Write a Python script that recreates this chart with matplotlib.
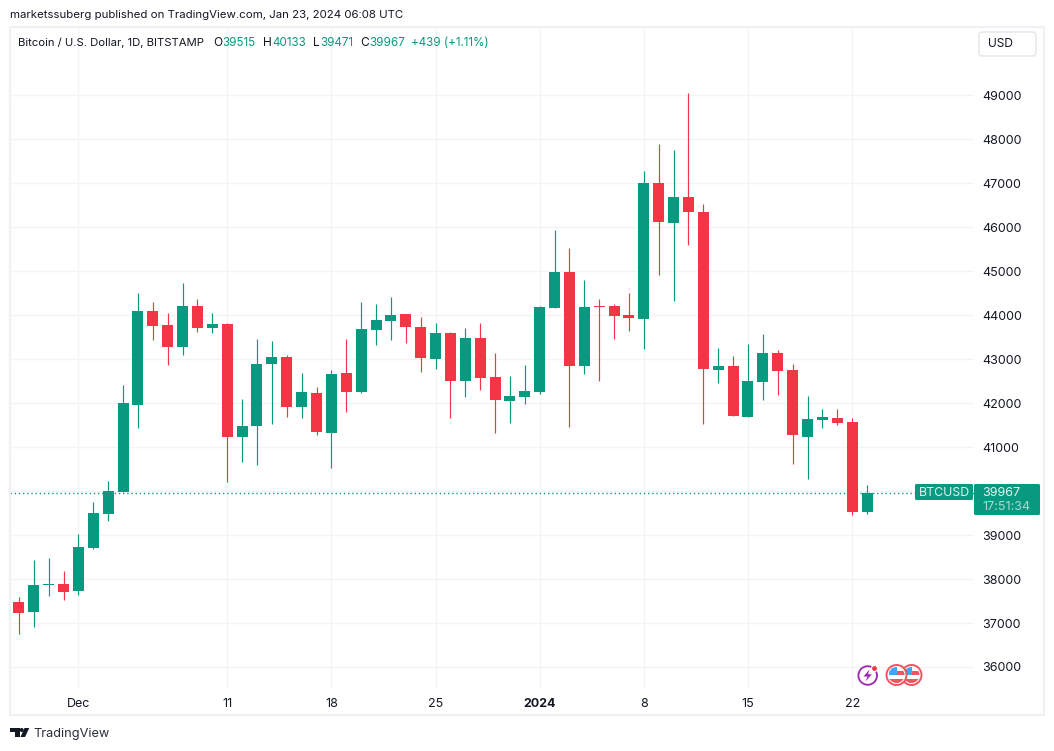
import matplotlib
matplotlib.use("Agg")
import matplotlib.pyplot as plt
import matplotlib.dates as mdates
from matplotlib.patches import Circle, FancyBboxPatch, Polygon, Rectangle
import pandas as pd

plt.rcParams['font.family'] = ['Inter', 'DejaVu Sans']

W, H = 1054, 751
GREEN = '#089981'
RED = '#f23645'
TEXT = '#131722'
GRID = '#f4f4f7'
FRAME = '#f0f0f5'

#######################################################################################
# daily candles, Nov 27 2023 to Jan 23 2024
dates = pd.date_range('2023-11-27', '2024-01-23', freq='D')
opens = [37485, 37257, 37860, 37894, 37735, 38712, 39485, 39985, 41962, 44098,
         43780, 43280, 44212, 43712, 43803, 41235, 41485, 42894, 43053, 41917,
         42235, 41326, 42689, 42258, 43667, 43871, 44030, 43735, 43008, 43598,
         42508, 43485, 42598, 42053, 42144, 42258, 44167, 44985, 42848, 44212,
         44212, 44008, 43917, 47008, 46098, 46689, 46348, 42758, 42848, 41689,
         42485, 43144, 42758, 41235, 41621, 41667, 41576, 39515]
highs = [37598, 38439, 38485, 38189, 39030, 39757, 40235, 42417, 44508, 44303,
         44053, 44735, 44371, 44053, 43826, 42098, 43462, 43417, 43098, 42689,
         42371, 42758, 43462, 44303, 44258, 44417, 44030, 43962, 43826, 43621,
         43712, 43826, 43144, 42621, 42871, 44212, 45939, 45530, 44803, 44371,
         44258, 44508, 47280, 47894, 47758, 49053, 46530, 43258, 43076, 43348,
         43576, 43212, 42894, 42167, 41871, 41871, 41667, 40133]
lows = [36757, 36916, 37621, 37530, 37644, 38689, 39326, 39985, 41439, 43439,
        42871, 43098, 43621, 43598, 40212, 40667, 40598, 41530, 41689, 41667,
        41280, 40525, 41803, 42235, 43326, 43439, 43371, 42712, 42780, 41667,
        42144, 42303, 41326, 41553, 41985, 42212, 44167, 41462, 42667, 42508,
        43462, 43644, 43235, 44917, 44326, 45598, 41530, 42462, 41712, 41689,
        42076, 42189, 40621, 40280, 41439, 41508, 39462, 39471]
closes = [37235, 37871, 37885, 37712, 38735, 39507, 40007, 42008, 44098, 43758,
          43280, 44212, 43712, 43803, 41235, 41485, 42894, 43053, 41917, 42258,
          41348, 42667, 42258, 43689, 43894, 44008, 43735, 43030, 43598, 42508,
          43485, 42576, 42076, 42167, 42280, 44189, 44985, 42848, 44189, 44189,
          43985, 43939, 47008, 46121, 46689, 46348, 42780, 42848, 41712, 42508,
          43144, 42735, 41280, 41644, 41689, 41553, 39530, 39967]

price_ticks = [36000, 37000, 38000, 39000, 40000, 41000, 42000, 43000, 44000,
               45000, 46000, 47000, 48000, 49000]
price_labels = ['36000', '37000', '38000', '39000', '', '41000', '42000', '43000',
                '44000', '45000', '46000', '47000', '48000', '49000']
date_ticks = ['2023-12-01', '2023-12-11', '2023-12-18', '2023-12-25',
              '2024-01-01', '2024-01-08', '2024-01-15', '2024-01-22']
date_labels = ['Dec', '11', '18', '25', '2024', '8', '15', '22']
last_price = 39967

#######################################################################################
fig = plt.figure(figsize=(W / 100, H / 100), dpi=100, facecolor='white')

# chart pane: x 10..974, y 27..688 in pixels
ax = fig.add_axes([10 / W, 1 - 688 / H, 964 / W, 661 / H])
for s in ax.spines.values():
    s.set_visible(False)

x = mdates.date2num(dates)
colors = [GREEN if c >= o else RED for o, c in zip(opens, closes)]
tops = [max(o, c) for o, c in zip(opens, closes)]
bottoms = [min(o, c) for o, c in zip(opens, closes)]
heights = [t - b for t, b in zip(tops, bottoms)]

ax.vlines(x, lows, highs, colors=colors, linewidth=0.85, zorder=3)
ax.bar(x, heights, bottom=bottoms, width=0.74, color=colors, linewidth=0, zorder=4)
ax.axhline(last_price, color=GREEN, linewidth=1.0, linestyle=(0, (1, 2)), zorder=2)

ax.set_xlim(x[0] - 0.6, x[0] + 64.19)
ax.set_ylim(35522, 50553)
ax.yaxis.tick_right()
ax.set_yticks(price_ticks)
ax.set_yticklabels(price_labels)
ax.set_xticks(mdates.date2num(pd.to_datetime(date_ticks)))
ax.set_xticklabels(date_labels)
ax.tick_params(axis='both', length=0, labelcolor=TEXT, labelsize=9.0)
ax.tick_params(axis='y', pad=6)
ax.tick_params(axis='x', pad=7)
ax.get_xticklabels()[4].set_fontweight('bold')
ax.grid(True, color=GRID, linewidth=1.0, zorder=0)
ax.set_axisbelow(True)

#######################################################################################
# everything around the pane is placed in pixels on a second axes
ov = fig.add_axes([0, 0, 1, 1], facecolor='none')
ov.set_xlim(0, W)
ov.set_ylim(H, 0)
ov.axis('off')


def label(px, py, s, color=TEXT, size=9.0, **kw):
    ov.text(px, py, s, color=color, fontsize=size, va='center', **kw)


ov.add_patch(Rectangle((10, 27), 1034, 688, fill=False, edgecolor=FRAME, linewidth=1.6))

label(10, 15.5, 'marketssuberg published on TradingView.com, Jan 23, 2024 06:08 UTC', size=8.25)
label(18, 42.5, 'Bitcoin / U.S. Dollar, 1D, BITSTAMP', size=8.15)
for px, s in [(213, 'O'), (263, 'H'), (313, 'L'), (360, 'C')]:
    label(px, 42.5, s, size=8.6)
for px, s in [(222, '39515'), (272, '40133'), (320, '39471'), (369, '39967'),
              (411, '+439 (+1.11%)')]:
    label(px, 42.5, s, color=GREEN, size=8.4)

# currency button
ov.add_patch(FancyBboxPatch((979, 32), 57, 24, boxstyle='round,pad=0,rounding_size=3',
                            facecolor='white', edgecolor='#e4e4ea', linewidth=1))
label(988, 44, 'USD', size=8.6)

# last price tags
ov.add_patch(FancyBboxPatch((915, 484), 58, 16, boxstyle='round,pad=0,rounding_size=1.5',
                            facecolor=GREEN, edgecolor='none'))
ov.add_patch(FancyBboxPatch((974, 484), 66, 31, boxstyle='round,pad=0,rounding_size=1.5',
                            facecolor=GREEN, edgecolor='none'))
label(919, 492.5, 'BTCUSD', color='#e4f4f0', size=8.9)
label(982.5, 492.5, '39967', color='#e4f4f0', size=9.0)
label(982.5, 507, '17:51:34', color='#a9dbcf', size=9.0)

# event icons
ov.add_patch(Circle((867.7, 675.5), 9.3, fill=False, edgecolor='#9c27b0', linewidth=1.3))
ov.add_patch(Polygon([(869.5, 669.5), (863.5, 676.5), (867.5, 676.5), (865.5, 681.5),
                      (871.8, 674.2), (868, 674.2)], facecolor='#9c27b0', edgecolor='none'))
ov.add_patch(Circle((874.5, 668.5), 3.0, facecolor=RED, edgecolor='white', linewidth=0.8))

for cx in (911.5, 896.5):
    ov.add_patch(Circle((cx, 675), 10, facecolor='white', edgecolor='#f7525f', linewidth=1.4))
    clip = Circle((cx, 675), 8, transform=ov.transData)
    marks = [Rectangle((cx - 8, 667), 8, 8, facecolor='#42a5f5', edgecolor='none'),
             Rectangle((cx, 671), 8, 4, facecolor='#f7525f', edgecolor='none'),
             Rectangle((cx - 8, 679), 16, 3.5, facecolor='#f7525f', edgecolor='none')]
    for m in marks:
        ov.add_patch(m)
        m.set_clip_path(clip)

# logo and wordmark
ov.add_patch(Polygon([(10, 728), (19.5, 728), (19.5, 737), (14.5, 737), (14.5, 732), (10, 732)],
                     facecolor=TEXT, edgecolor='none'))
ov.add_patch(Circle((21.7, 730), 2.0, facecolor=TEXT, edgecolor='none'))
ov.add_patch(Polygon([(24.5, 728), (29.3, 728), (25, 737), (20.5, 737)],
                     facecolor=TEXT, edgecolor='none'))
label(33.5, 734, 'TradingView', color='#2a2e39', size=9.2)

fig.savefig('out.png', dpi=100, facecolor='white')
